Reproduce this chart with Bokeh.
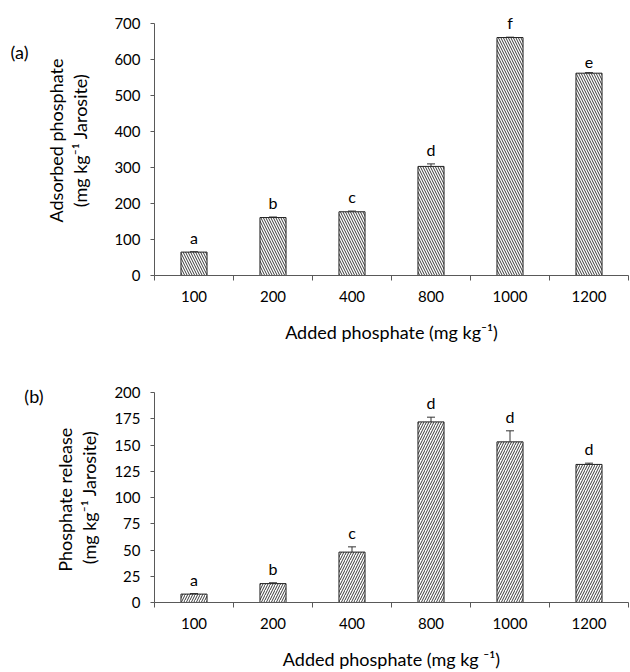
from bokeh.plotting import figure
from bokeh.models import (Range1d, FixedTicker, SingleIntervalTicker, Whisker,
                          ColumnDataSource, TeeHead, Title, LinearAxis)
from bokeh.layouts import column
from bokeh.core.properties import value
from bokeh.embed import file_html
from bokeh.resources import INLINE

# Added phosphate doses (mg kg-1)
doses = ["100", "200", "400", "800", "1000", "1200"]

# (a) adsorbed phosphate, mg kg-1 jarosite
adsorbed = [65, 161, 177, 303, 661, 562]
adsorbed_err = [1, 1.5, 2, 7, 1, 1.5]
adsorbed_groups = ["a", "b", "c", "d", "f", "e"]

# (b) phosphate release, mg kg-1 jarosite
release = [8, 18, 48, 172, 153, 131.5]
release_err = [0.5, 0.8, 5, 4.5, 10.5, 1.2]
release_groups = ["a", "b", "c", "d", "d", "d"]

FONT = "Lato"
AXIS_COLOR = "#595959"


def side_title(p, text, size, standoff, offset):
    p.add_layout(Title(text=text, align="center", vertical_align="bottom",
                       text_font=FONT, text_font_size=size,
                       text_font_style="normal", text_color="black",
                       standoff=standoff, offset=offset), "left")


def panel_tag(p, text, level, standoff):
    # panel letter drawn as the single label of a bare outer axis
    tag_axis = LinearAxis(ticker=FixedTicker(ticks=[level]),
                          major_label_overrides={level: text},
                          axis_line_color=None, major_tick_line_color=None,
                          minor_tick_line_color=None, major_tick_out=0,
                          major_tick_in=0, major_label_standoff=standoff,
                          major_label_text_font=FONT,
                          major_label_text_font_size="18px",
                          major_label_text_color="black")
    p.add_layout(tag_axis, "left")


def panel(height, top, bottom, left, right, ymax, yaxis_max, step, vals, errs,
          groups, hatch, ylabel_lines, gap, title_offset, xlabel,
          tick_standoff, tag, tag_level, tag_standoff):
    xs = [2 * i + 1 for i in range(len(doses))]
    src = ColumnDataSource(dict(
        x=xs, top=vals, upper=[v + e for v, e in zip(vals, errs)],
        lower=[v - e for v, e in zip(vals, errs)], grp=groups))

    p = figure(width=630, height=height, x_range=Range1d(0, 2 * len(doses)),
               y_range=Range1d(0, ymax), output_backend="svg",
               toolbar_location=None, min_border_top=top,
               min_border_bottom=bottom, min_border_left=left,
               min_border_right=right)
    p.outline_line_color = None
    p.grid.visible = False
    p.background_fill_color = "white"

    p.vbar(x="x", top="top", width=0.66, bottom=0, source=src,
           fill_color="white", line_color="#222222", line_width=1,
           hatch_pattern=hatch, hatch_color="#3a3a3a", hatch_scale=5,
           hatch_weight=1)

    head = dict(size=8, line_color="#333333", line_width=1)
    p.add_layout(Whisker(base="x", upper="upper", lower="lower", source=src,
                         line_color="#333333", line_width=1,
                         upper_head=TeeHead(**head), lower_head=TeeHead(**head)))

    # significance letters above each bar
    p.text(x="x", y="upper", text="grp", source=src, text_align="center",
           text_baseline="bottom", y_offset=-5, text_font=value(FONT),
           text_font_size="16px", text_color="black")

    # x axis: labels centred under bars, ticks between categories
    xa = p.xaxis[0]
    xa.ticker = FixedTicker(ticks=xs, minor_ticks=list(range(0, 2 * len(doses) + 1, 2)))
    xa.major_label_overrides = {x: d for x, d in zip(xs, doses)}
    xa.major_tick_line_color = None
    xa.major_tick_out = 6
    xa.major_tick_in = 0
    xa.minor_tick_line_color = AXIS_COLOR
    xa.minor_tick_out = 5
    xa.minor_tick_in = 0
    xa.major_label_standoff = 9
    xa.axis_label = xlabel
    xa.axis_label_standoff = 16
    xa.axis_label_text_font_size = "18px"
    xa.axis_label_text_font = FONT
    xa.axis_label_text_font_style = "normal"
    xa.axis_label_text_color = "black"

    ya = p.yaxis[0]
    ya.ticker = SingleIntervalTicker(interval=step)
    ya.bounds = (0, yaxis_max)
    ya.minor_tick_line_color = None
    ya.major_tick_out = 4
    ya.major_tick_in = 0
    ya.major_tick_line_color = AXIS_COLOR
    ya.major_label_standoff = tick_standoff

    for ax in (xa, ya):
        ax.axis_line_color = AXIS_COLOR
        ax.major_label_text_font = FONT
        ax.major_label_text_font_size = "15px"
        ax.major_label_text_color = "black"

    # two-line vertical axis title, stacked outward from the axis
    side_title(p, " ", "1px", gap, 0)
    side_title(p, ylabel_lines[1], "18px", 0, title_offset)
    side_title(p, ylabel_lines[0], "18px", 0, title_offset)

    panel_tag(p, tag, tag_level, tag_standoff)
    return p


pa = panel(345, 5, 67, 145, 2, 750, 700, 100, adsorbed, adsorbed_err,
           adsorbed_groups, "\\",
           ["Adsorbed phosphate", "(mg kg\u207b\u00b9 Jarosite)"], 18, -15,
           "Added phosphate (mg kg\u207b\u00b9)", 10, "(a)", 621, 14)
pb = panel(327, 47, 61, 154, 0, 200, 200, 25, release, release_err,
           release_groups, "/",
           ["Phosphate  release", "(mg kg\u207b\u00b9 Jarosite)"], 9, -11,
           "Added phosphate (mg kg \u207b\u00b9)", 10, "(b)", 197, 8)

layout = column(pa, pb, spacing=0)
open("out.html", "w").write(file_html(layout, INLINE))
